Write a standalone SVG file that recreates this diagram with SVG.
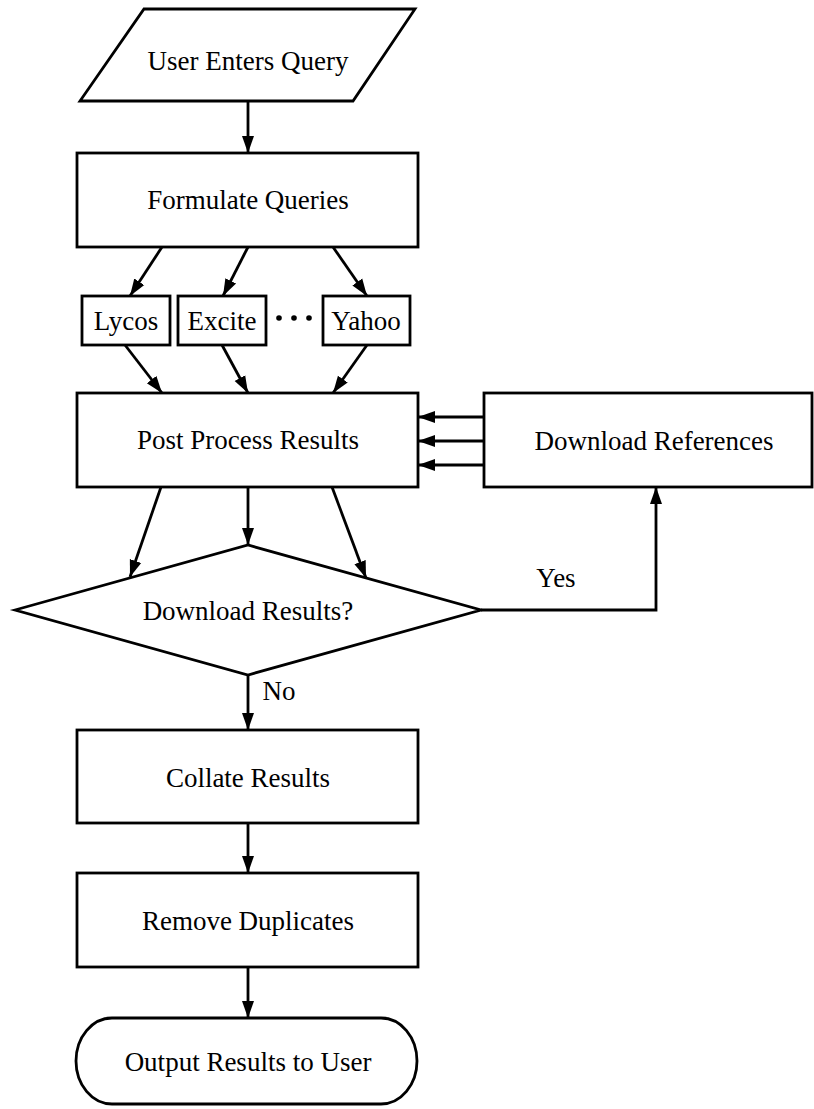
<svg xmlns="http://www.w3.org/2000/svg" width="814" height="1109" viewBox="0 0 814 1109">
<style>
.shape{fill:#fff;stroke:#000;stroke-width:2.8}
.lbl{font-family:"Liberation Serif","Times New Roman",serif;font-size:27px;fill:#000;text-anchor:middle}
.edge{fill:none;stroke:#000;stroke-width:2.8}
</style>
<defs>
<marker id="arr" markerUnits="userSpaceOnUse" markerWidth="18" markerHeight="14" refX="17" refY="7" orient="auto">
<path d="M0,1 L17,7 L0,13 Z" fill="#000"/>
</marker>
</defs>
<rect width="814" height="1109" fill="#fff"/>
<g id="connectors">
<path class="edge" d="M248,101 L248,153" marker-end="url(#arr)"/>
<path class="edge" d="M162,247 L130,296" marker-end="url(#arr)"/>
<path class="edge" d="M248,247 L223,296" marker-end="url(#arr)"/>
<path class="edge" d="M333,247 L367,296" marker-end="url(#arr)"/>
<path class="edge" d="M125,345 L162,393" marker-end="url(#arr)"/>
<path class="edge" d="M222,345 L248,393" marker-end="url(#arr)"/>
<path class="edge" d="M367,345 L333,393" marker-end="url(#arr)"/>
<path class="edge" d="M484,417 L418,417" marker-end="url(#arr)"/>
<path class="edge" d="M484,441 L418,441" marker-end="url(#arr)"/>
<path class="edge" d="M484,465 L418,465" marker-end="url(#arr)"/>
<path class="edge" d="M161,487 L130,577" marker-end="url(#arr)"/>
<path class="edge" d="M248,487 L248,545" marker-end="url(#arr)"/>
<path class="edge" d="M332,487 L366,578" marker-end="url(#arr)"/>
<path class="edge" d="M481,610 L656,610 L656,487" marker-end="url(#arr)"/>
<text class="lbl" x="556" y="587">Yes</text>
<path class="edge" d="M248,675 L248,730" marker-end="url(#arr)"/>
<text class="lbl" x="279" y="700">No</text>
<path class="edge" d="M248,823 L248,873" marker-end="url(#arr)"/>
<path class="edge" d="M248,967 L248,1018" marker-end="url(#arr)"/>
</g>
<g id="user-enters-query">
<polygon class="shape" points="144,9 415,9 353,101 80,101"/>
<text class="lbl" x="248" y="70">User Enters Query</text>
</g>
<g id="formulate-queries">
<rect class="shape" x="77" y="153" width="341" height="94"/>
<text class="lbl" x="248" y="209">Formulate Queries</text>
</g>
<g id="lycos">
<rect class="shape" x="82" y="296" width="88" height="49"/>
<text class="lbl" x="126" y="330">Lycos</text>
</g>
<g id="excite">
<rect class="shape" x="178" y="296" width="88" height="49"/>
<text class="lbl" x="222" y="330">Excite</text>
</g>
<g id="ellipsis">
<circle cx="279" cy="318" r="2.8"/>
<circle cx="294" cy="318" r="2.8"/>
<circle cx="309" cy="318" r="2.8"/>
</g>
<g id="yahoo">
<rect class="shape" x="323" y="296" width="87" height="49"/>
<text class="lbl" x="366" y="330">Yahoo</text>
</g>
<g id="post-process-results">
<rect class="shape" x="77" y="393" width="341" height="94"/>
<text class="lbl" x="248" y="449">Post Process Results</text>
</g>
<g id="download-references">
<rect class="shape" x="484" y="393" width="328" height="94"/>
<text class="lbl" x="654" y="450">Download References</text>
</g>
<g id="download-results">
<polygon class="shape" points="15,610 248,545 481,610 248,675"/>
<text class="lbl" x="248" y="620">Download Results?</text>
</g>
<g id="collate-results">
<rect class="shape" x="77" y="730" width="341" height="93"/>
<text class="lbl" x="248" y="787">Collate Results</text>
</g>
<g id="remove-duplicates">
<rect class="shape" x="77" y="873" width="341" height="94"/>
<text class="lbl" x="248" y="930">Remove Duplicates</text>
</g>
<g id="output-results">
<rect class="shape" x="76" y="1018" width="341" height="86" rx="36" ry="43"/>
<text class="lbl" x="248" y="1071">Output Results to User</text>
</g>
</svg>
